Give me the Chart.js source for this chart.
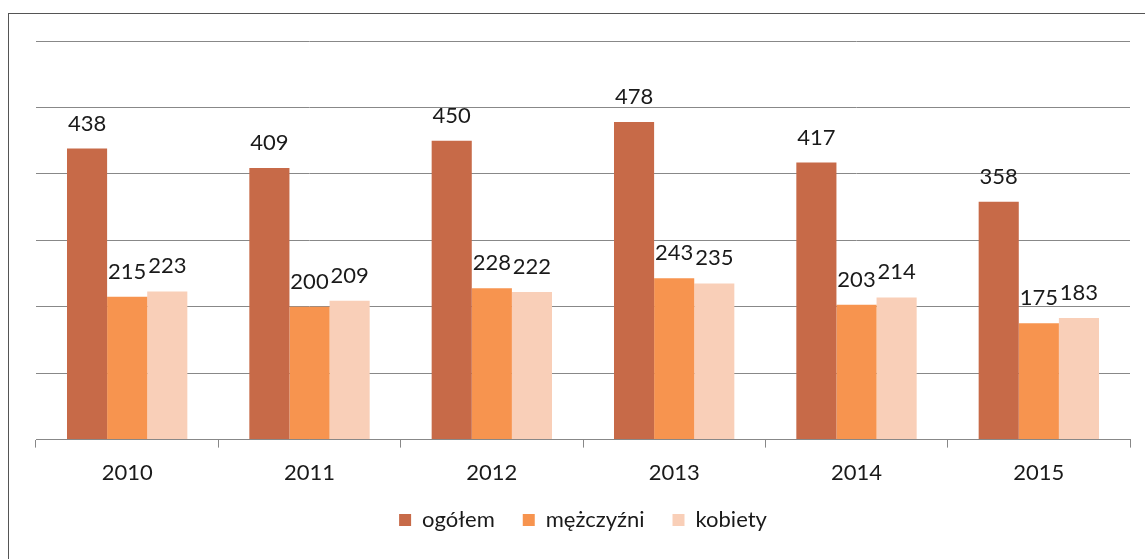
<!DOCTYPE html>
<html>
<head>
<meta charset="utf-8">
<script src="https://cdn.jsdelivr.net/npm/chart.js@4/dist/chart.umd.min.js"></script>
<style>
html,body{margin:0;padding:0;background:#fff;overflow:hidden;}
#wrap{position:relative;width:1145px;height:559px;}
#frame{position:absolute;left:8px;top:13px;width:1200px;height:600px;border:1.5px solid #555;box-sizing:border-box;pointer-events:none;}
canvas{position:absolute;left:0;top:0;}
</style>
</head>
<body>
<div id="wrap">
<canvas id="c" width="1145" height="559"></canvas>
<div id="frame"></div>
</div>
<script>
const categories = ['2010','2011','2012','2013','2014','2015'];
const seriesNames = ['ogółem','mężczyźni','kobiety'];
const ogolem = [438, 409, 450, 478, 417, 358];
const mezczyzni = [215, 200, 228, 243, 203, 175];
const kobiety = [223, 209, 222, 235, 214, 183];
const colors = ['#c76a48', '#f7944f', '#f9cfb8'];

const FONT = 'Lato, "Open Sans", sans-serif';

const valueLabels = {
  id: 'valueLabels',
  afterDatasetsDraw(chart) {
    const ctx = chart.ctx;
    ctx.save();
    ctx.font = '22px ' + FONT;
    ctx.fillStyle = '#1a1a1a';
    ctx.textAlign = 'center';
    ctx.textBaseline = 'alphabetic';
    chart.data.datasets.forEach((ds, i) => {
      const meta = chart.getDatasetMeta(i);
      meta.data.forEach((el, j) => {
        ctx.fillText(String(ds.data[j]), el.x, el.y - 18);
      });
    });
    ctx.restore();
  }
};

new Chart(document.getElementById('c'), {
  type: 'bar',
  data: {
    labels: categories,
    datasets: [
      { label: seriesNames[0], data: ogolem, backgroundColor: colors[0] },
      { label: seriesNames[1], data: mezczyzni, backgroundColor: colors[1] },
      { label: seriesNames[2], data: kobiety, backgroundColor: colors[2] }
    ]
  },
  options: {
    responsive: false,
    animation: false,
    events: [],
    layout: { padding: { left: 36, right: 15, top: 41, bottom: 18 } },
    datasets: { bar: { categoryPercentage: 0.66, barPercentage: 1.0 } },
    scales: {
      x: {
        grid: { display: true, drawOnChartArea: false, drawTicks: true, tickLength: 8, color: '#888', offset: true },
        border: { display: true, color: '#888', width: 1 },
        ticks: { font: { family: FONT, size: 22 }, color: '#1a1a1a', padding: 12 },
        afterFit(scale) { scale.height -= 17; }
      },
      y: {
        min: 0, max: 600,
        ticks: { display: false, stepSize: 100 },
        grid: { color: '#888', lineWidth: 1, drawTicks: false },
        border: { display: false }
      }
    },
    plugins: {
      legend: {
        position: 'bottom',
        labels: {
          font: { family: FONT, size: 22 },
          color: '#1a1a1a',
          boxWidth: 12, boxHeight: 12,
          padding: 28
        }
      },
      tooltip: { enabled: false }
    }
  },
  plugins: [valueLabels]
});
</script>
</body>
</html>
